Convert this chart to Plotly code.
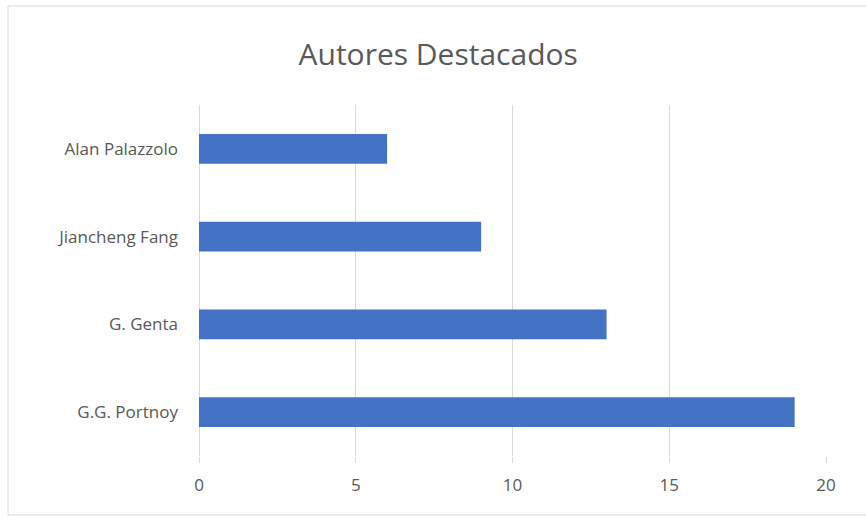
import plotly.graph_objects as go

authors = ["G.G. Portnoy", "G. Genta", "Jiancheng Fang", "Alan Palazzolo"]
counts = [19, 13, 9, 6]
x_ticks = [0, 5, 10, 15, 20]

GRID = "#D9D9D9"
TEXT = "#595959"
FONT = "Open Sans, Lato, sans-serif"

fig = go.Figure(go.Bar(
    x=counts, y=authors, orientation="h",
    marker=dict(color="#4472C4", line=dict(width=0)),
    width=0.34,
))

fig.update_layout(
    width=866, height=517,
    margin=dict(l=199, r=40, t=105, b=61),
    paper_bgcolor="white", plot_bgcolor="white",
    font=dict(family=FONT, color=TEXT, size=17),
    title=dict(text="Autores Destacados", x=0.506, xanchor="center", y=0.895, yanchor="middle",
               font=dict(family=FONT, size=30, color=TEXT)),
    showlegend=False,
    xaxis=dict(range=[0, 20], tickvals=x_ticks, showgrid=True, gridcolor=GRID, gridwidth=1,
               zeroline=True, zerolinecolor=GRID, zerolinewidth=1, showline=False,
               ticks="outside", ticklen=6, tickcolor=GRID, tickwidth=1,
               ticklabelstandoff=8, tickfont=dict(size=17)),
    yaxis=dict(showgrid=False, zeroline=False, showline=False, ticks="",
               ticklabelstandoff=20, tickfont=dict(size=17)),
    shapes=[dict(type="rect", xref="paper", yref="paper", x0=-0.3046, x1=1.067, y0=-0.168, y1=1.282,
                 line=dict(color=GRID, width=1))],
)

fig.write_html("out.html")
